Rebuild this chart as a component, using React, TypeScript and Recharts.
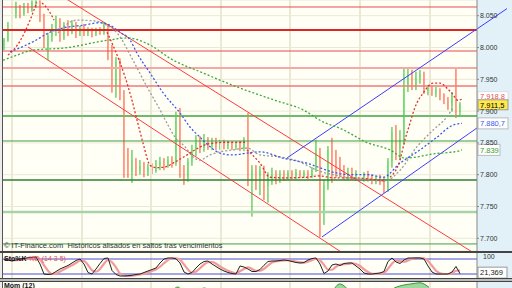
import React from 'react'
import { ComposedChart, Bar, Line, Area, XAxis, YAxis, CartesianGrid, ReferenceLine } from 'recharts'

// daily candles, index 0..114
const OPEN = [8002, 8012, 8031, 8053, 8060, 8053, 8064, 8059, 8070, 8072,
  8046, 7993, 8018, 8028, 8040, 8021, 8034, 8024, 8035, 8024,
  8031, 8023, 8029, 8021, 8028, 8023, 8034, 7996, 7941, 7977,
  7925, 7823, 7804, 7820, 7807, 7814, 7804, 7812, 7806, 7814,
  7820, 7814, 7823, 7817, 7894, 7804, 7795, 7820, 7839, 7851,
  7842, 7855, 7845, 7853, 7844, 7850, 7845, 7848, 7844, 7847,
  7842, 7855, 7792, 7807, 7798, 7807, 7782, 7795, 7800, 7792,
  7801, 7795, 7803, 7798, 7804, 7798, 7803, 7798, 7807, 7836,
  7745, 7784, 7839, 7823, 7811, 7804, 7800, 7804, 7798, 7803,
  7796, 7801, 7795, 7792, 7795, 7790, 7776, 7820, 7867, 7842,
  7855, 7941, 7957, 7939, 7952, 7958, 7933, 7936, 7930, 7933,
  7924, 7917, 7908, 7925, 7899]
const HIGH = [8015, 8040, 8062, 8072, 8067, 8070, 8070, 8074, 8074, 8074,
  8053, 8023, 8037, 8050, 8046, 8040, 8043, 8043, 8040, 8034,
  8037, 8032, 8031, 8031, 8032, 8040, 8037, 8004, 7985, 7983,
  7933, 7842, 7839, 7826, 7823, 7820, 7817, 7818, 7823, 7828,
  7826, 7829, 7829, 7899, 7905, 7815, 7826, 7847, 7862, 7861,
  7864, 7859, 7858, 7858, 7855, 7855, 7853, 7851, 7851, 7853,
  7859, 7897, 7815, 7815, 7814, 7814, 7804, 7811, 7807, 7807,
  7807, 7807, 7807, 7809, 7807, 7807, 7807, 7812, 7855, 7842,
  7792, 7845, 7858, 7839, 7828, 7815, 7811, 7811, 7807, 7807,
  7804, 7806, 7800, 7798, 7800, 7796, 7826, 7875, 7878, 7870,
  7968, 7968, 7965, 7962, 7965, 7962, 7941, 7940, 7938, 7936,
  7928, 7922, 7930, 7968, 7914]
const LOW = [7996, 8009, 8028, 8046, 8046, 8050, 8054, 8056, 8062, 8040,
  7999, 7980, 8009, 8018, 8009, 8012, 8018, 8021, 8015, 8018,
  8018, 8018, 8016, 8018, 8020, 8020, 7980, 7929, 7921, 7917,
  7795, 7795, 7787, 7798, 7800, 7796, 7798, 7801, 7803, 7807,
  7807, 7811, 7811, 7814, 7795, 7784, 7789, 7814, 7829, 7834,
  7836, 7839, 7839, 7839, 7839, 7840, 7840, 7839, 7839, 7837,
  7837, 7782, 7734, 7776, 7768, 7760, 7756, 7784, 7785, 7787,
  7790, 7792, 7793, 7793, 7795, 7795, 7793, 7795, 7804, 7702,
  7721, 7776, 7787, 7795, 7796, 7792, 7792, 7792, 7790, 7790,
  7789, 7789, 7785, 7785, 7784, 7771, 7773, 7811, 7823, 7823,
  7847, 7930, 7933, 7933, 7943, 7927, 7925, 7924, 7922, 7917,
  7911, 7902, 7899, 7889, 7892]
const CLOSE = [8012, 8031, 8053, 8062, 8053, 8065, 8059, 8070, 8073, 8046,
  8012, 8018, 8031, 8043, 8021, 8034, 8024, 8037, 8024, 8031,
  8023, 8029, 8021, 8028, 8023, 8034, 7996, 7941, 7977, 7925,
  7823, 7804, 7823, 7807, 7814, 7804, 7812, 7806, 7814, 7820,
  7814, 7823, 7817, 7889, 7807, 7798, 7820, 7839, 7851, 7842,
  7855, 7845, 7853, 7844, 7850, 7845, 7848, 7844, 7847, 7842,
  7855, 7792, 7807, 7795, 7807, 7779, 7795, 7800, 7792, 7801,
  7795, 7803, 7798, 7804, 7798, 7803, 7798, 7807, 7839, 7745,
  7784, 7839, 7823, 7811, 7804, 7800, 7804, 7798, 7803, 7796,
  7801, 7795, 7792, 7795, 7790, 7776, 7820, 7867, 7842, 7855,
  7936, 7957, 7939, 7952, 7958, 7933, 7936, 7930, 7933, 7924,
  7917, 7908, 7925, 7899, 7911.5]

// stochastic %K / %D
const STOCH_K = [79, 76, 72, 76, 80, 82, 85, 87, 88, 60,
  20, 18, 20, 30, 40, 47, 54, 64, 74, 80,
  60, 26, 20, 40, 62, 82, 84, 34, 18, 12,
  12, 13, 15, 18, 20, 26, 32, 38, 44, 64,
  80, 84, 84, 81, 64, 28, 20, 26, 44, 60,
  70, 72, 60, 50, 40, 32, 26, 22, 20, 52,
  48, 40, 30, 30, 38, 55, 70, 72, 72, 74,
  76, 74, 70, 66, 64, 66, 76, 82, 84, 60,
  22, 32, 56, 60, 54, 62, 64, 64, 52, 40,
  24, 20, 20, 22, 24, 30, 70, 84, 68, 62,
  76, 84, 84, 84, 84, 80, 52, 28, 20, 20,
  20, 20, 28, 50, 21.369]
const STOCH_D = [78, 77, 75, 75, 77, 80, 82, 84, 86, 78,
  55, 33, 20, 22, 30, 39, 47, 55, 64, 73,
  72, 56, 35, 29, 40, 61, 76, 67, 46, 22,
  14, 12, 13, 15, 18, 21, 26, 32, 38, 49,
  63, 76, 83, 83, 77, 58, 38, 25, 30, 43,
  58, 67, 68, 61, 50, 41, 33, 27, 23, 31,
  40, 47, 40, 33, 33, 41, 54, 66, 71, 73,
  74, 75, 73, 70, 67, 65, 69, 75, 81, 75,
  56, 38, 37, 49, 57, 59, 60, 63, 60, 52,
  39, 28, 21, 21, 22, 25, 41, 61, 74, 71,
  69, 74, 81, 84, 84, 83, 72, 53, 33, 23,
  20, 20, 23, 33, 34]
const STOCH_LEVELS = [80, 20]

// momentum (12), [index, value]
const MOM = [[0, 60], [8, 120], [12, -40], [20, 40], [28, -150], [32, -180], [40, 60], [43.5, 167],
  [46, 80], [50, 160], [52, 140], [58, 60], [61, -60], [66, -20], [75, 40], [80, -100], [82, 120],
  [84, 187], [86, 150], [90, 20], [95, -40], [97, 150], [100, 180], [102, 188], [104, 195],
  [106, 170], [110, 60], [114, 20]]

// dotted indicator curves, [index, price]
const RED_A = [[1, 7988], [4, 8010], [6.5, 8043], [8.2, 8071]]
const RED_B = [[9.5, 8070], [11, 8060], [12.5, 8043]]
const RED_C = [[25.75, 8024], [27.75, 7996], [30.25, 7954], [32, 7917], [33.25, 7886], [34.75, 7850],
  [36.5, 7815], [38, 7811], [40.25, 7812], [42.75, 7820], [45.25, 7829], [47.75, 7839], [50.25, 7847],
  [52.75, 7850], [56.5, 7851], [60.25, 7851]]
const RED_D = [[60.75, 7839], [64, 7818], [66.5, 7796], [70.25, 7795], [75.75, 7796], [78.5, 7798],
  [82.75, 7795], [87.75, 7795], [92.75, 7792], [95.25, 7790]]
const RED_E = [[96.5, 7796], [99, 7823], [100.25, 7855], [101.5, 7881], [102.75, 7906], [104.75, 7928],
  [107.25, 7944], [109, 7944], [110.75, 7936], [112, 7928], [113.5, 7917], [114.5, 7918.8]]
const GRAY = [[13.5, 8023], [14.75, 8031], [16.5, 8040], [18.25, 8043], [22.25, 8042], [25.75, 8035],
  [28.25, 8023], [32.25, 7980], [35.75, 7938], [39, 7902], [40.75, 7881], [42.75, 7859], [45.25, 7844],
  [47.25, 7828], [49, 7823], [51.5, 7831], [54, 7836], [57.25, 7839], [60.75, 7842], [64, 7831],
  [69, 7828], [74, 7820], [78.25, 7807], [82.25, 7800], [86.5, 7795], [90.75, 7792], [95.25, 7790],
  [99, 7807], [103.25, 7844], [107.25, 7870], [110.75, 7891], [112.25, 7905]]
const BLUE = [[1.5, 7993], [7.25, 8009], [11.5, 8024], [15.75, 8032], [19.75, 8035], [24, 8039],
  [26.5, 8035], [29, 8024], [31.5, 8012], [33.25, 7991], [36.5, 7960], [39.75, 7929], [44, 7897],
  [46.5, 7875], [49, 7859], [51.5, 7844], [54, 7834], [57.25, 7831], [60.75, 7834], [64, 7836],
  [69.75, 7826], [75.75, 7818], [82.25, 7804], [86.5, 7800], [91, 7800], [94.75, 7796], [99, 7818],
  [104, 7839], [108.25, 7859], [112.25, 7878], [114.5, 7880.7]]
const GREEN = [[-0.25, 7980], [3.25, 7988], [7.25, 7996], [14.75, 7999], [26.5, 8012], [30.75, 8015],
  [36.5, 8004], [41.5, 7983], [49.75, 7960], [58.25, 7938], [67.75, 7917], [74.75, 7902], [79.75, 7883],
  [84, 7873], [91, 7850], [96.5, 7839], [100.25, 7826], [107.75, 7833], [113.5, 7837], [114.5, 7839]]

// support / resistance and channels
const RED_LEVELS = [8063.7, 8027.5, 7994.5, 7967.8, 7939.5]
const GREEN_LEVELS = [7892.4, 7853.0, 7791.7, 7741.4, 7691.1]
const RED_CHANNEL_TOP = [[14, 8082.6], [118.25, 7673.8]]
const RED_CHANNEL_LOW = [[6, 8000.8], [85.25, 7674.5]]
const BLUE_CHANNEL_TOP = [[70.75, 7826.3], [125.75, 8061.2]]
const BLUE_CHANNEL_LOW = [[79.5, 7702.1], [118.25, 7873.5]]

const PRICE_TICKS = [7700, 7750, 7800, 7850, 7900, 7950, 8000, 8050]
const DATE_LINES = [2, 19.5, 36.75, 54.25, 71.5, 89, 106.5]
const X_DOMAIN = [-0.25, 118.25]

const FONT = '"Liberation Sans", Arial, sans-serif'
const GRID = '#ebe8d5'
const redLevelStyle = [
  { c: '#e84a4a', w: 1 },
  { c: '#e02424', w: 2 },
  { c: '#e84a4a', w: 1 },
  { c: '#f5a8a8', w: 2 },
  { c: '#f07a7a', w: 1.5 },
]
const greenLevelStyle = [
  { c: '#6dbb6d', w: 2 },
  { c: '#3f9f3f', w: 1 },
  { c: '#2f7f2f', w: 1.5 },
  { c: '#a6d4a6', w: 2.5 },
  { c: '#3f9f3f', w: 1 },
]

const candles = OPEN.map((o, i) => ({
  x: i, o, h: HIGH[i], l: LOW[i], c: CLOSE[i], range: [LOW[i], HIGH[i]],
}))
const stoch = STOCH_K.map((k, i) => ({ x: i, k, d: STOCH_D[i] }))
const mom = MOM.map(([x, y]) => ({ x, y }))
const pts = (a: number[][]) => a.map(([x, y]) => ({ x, y }))

function fmt(v: number, dec = 0) {
  const [int, frac] = v.toFixed(dec).split('.')
  const g = int.replace(/\B(?=(\d{3})+(?!\d))/g, '.')
  return frac ? `${g},${frac}` : g
}

function Candle(props: any) {
  const { x, y, width, height, payload } = props
  if (x == null || !payload) return null
  const top = Math.min(y, y + height)
  const span = Math.abs(height)
  const { o, h, l, c } = payload
  const k = h - l > 0 ? span / (h - l) : 0
  const yo = top + (h - o) * k
  const yc = top + (h - c) * k
  const up = c >= o
  const cx = x + width / 2
  return (
    <g>
      <line x1={cx} x2={cx} y1={top} y2={top + span} stroke={up ? '#22bb22' : '#ff4020'} strokeWidth={1} />
      <rect x={x} y={Math.min(yo, yc)} width={width} height={Math.max(1, Math.abs(yc - yo))}
        fill={up ? '#5fdc5f' : '#ff9c8c'} />
    </g>
  )
}

function Tag({ viewBox, text, color, bg, border, w, dy = 0, h = 11 }: any) {
  if (!viewBox) return null
  const x = viewBox.x + viewBox.width + 1
  const y = viewBox.y + dy
  return (
    <g>
      <rect x={x} y={y - h / 2} width={w} height={h} fill={bg} stroke={border} strokeWidth={1} />
      <text x={x + 2} y={y + 2.8} fontSize={7.5} fill={color} fontFamily={FONT}>{text}</text>
    </g>
  )
}

const dotted = (data: number[][], color: string, key: string) => (
  <Line key={key} data={pts(data)} dataKey="y" type="monotone" stroke={color} strokeWidth={1.3}
    strokeDasharray="2 2" dot={false} activeDot={false} isAnimationActive={false} />
)

export default function App() {
  const axisTick = { fontSize: 7, fill: '#333', fontFamily: FONT }
  const lastRed = RED_E[RED_E.length - 1][1]
  const lastBlue = BLUE[BLUE.length - 1][1]
  const lastGreen = GREEN[GREEN.length - 1][1]
  const lastClose = CLOSE[CLOSE.length - 1]
  const lastK = STOCH_K[STOCH_K.length - 1]
  return (
    <div style={{ position: 'fixed', left: 0, top: 0, width: 512, height: 288, overflow: 'hidden', background: '#bcbcbc', fontFamily: FONT }}>
      {/* price pane */}
      <div style={{ position: 'absolute', left: 0, top: 0, width: 512, height: 251, background: '#ececec' }}>
        <div style={{ position: 'absolute', left: 477, top: 0, width: 35, height: 251, background: '#e2f1f8' }} />
        <div style={{ position: 'absolute', left: 2, top: 0, width: 1, height: 251, background: '#555' }} />
        <div style={{ position: 'absolute', left: 0, top: 0 }}>
          <ComposedChart width={512} height={251} data={candles} margin={{ top: 0, right: 0, bottom: 0, left: 3 }}>
            <CartesianGrid fill="#fffff6" stroke={GRID} vertical={false} />
            <XAxis type="number" dataKey="x" domain={X_DOMAIN} hide allowDataOverflow />
            <YAxis orientation="right" width={35} domain={[7680, 8074.7]} ticks={PRICE_TICKS} interval={0}
              allowDataOverflow tickFormatter={(v: number) => fmt(v)} tick={axisTick} tickSize={2} tickMargin={1}
              axisLine={{ stroke: '#888' }} tickLine={{ stroke: '#888' }} />
            {DATE_LINES.map((x) => <ReferenceLine key={'d' + x} x={x} stroke={GRID} strokeWidth={2} />)}
            {RED_LEVELS.map((v, i) => (
              <ReferenceLine key={'r' + v} y={v} stroke={redLevelStyle[i].c} strokeWidth={redLevelStyle[i].w} />
            ))}
            {GREEN_LEVELS.map((v, i) => (
              <ReferenceLine key={'g' + v} y={v} stroke={greenLevelStyle[i].c} strokeWidth={greenLevelStyle[i].w} />
            ))}
            <ReferenceLine segment={pts(RED_CHANNEL_TOP)} stroke="#ff3a3a" ifOverflow="hidden" />
            <ReferenceLine segment={pts(RED_CHANNEL_LOW)} stroke="#ff3a3a" ifOverflow="hidden" />
            <ReferenceLine segment={pts(BLUE_CHANNEL_TOP)} stroke="#3c3cff" ifOverflow="visible" />
            <ReferenceLine segment={pts(BLUE_CHANNEL_LOW)} stroke="#3c3cff" ifOverflow="hidden" />
            <Bar dataKey="range" barSize={3} shape={(p: any) => <Candle {...p} />} isAnimationActive={false} />
            {dotted(GREEN, '#3aaa3a', 'green')}
            {dotted(GRAY, '#9a9a9a', 'gray')}
            {dotted(BLUE, '#3a5ae8', 'blue')}
            {dotted(RED_A, '#e0302a', 'ra')}
            {dotted(RED_B, '#e0302a', 'rb')}
            {dotted(RED_C, '#e0302a', 'rc')}
            {dotted(RED_D, '#e0302a', 'rd')}
            {dotted(RED_E, '#e0302a', 're')}
            <ReferenceLine y={lastRed} stroke="none"
              label={<Tag text={fmt(lastRed, 1)} color="#e85050" bg="#fff" border="#ddd" w={30} dy={-3} h={9} />} />
            <ReferenceLine y={lastClose} stroke="none"
              label={<Tag text={fmt(lastClose, 1)} color="#000" bg="#ffe94a" border="#999" w={30} dy={1} h={10} />} />
            <ReferenceLine y={lastBlue} stroke="none"
              label={<Tag text={fmt(lastBlue, 1)} color="#3a5ae8" bg="#fff" border="#bbb" w={30} />} />
            <ReferenceLine y={lastGreen} stroke="none"
              label={<Tag text={fmt(lastGreen)} color="#2fa02f" bg="#fff" border="#bbb" w={22} />} />
          </ComposedChart>
        </div>
        <div style={{ position: 'absolute', left: 4, top: 241, fontSize: 7.5, lineHeight: '9px', color: '#333', whiteSpace: 'pre' }}>
          {'© IT-Finance.com  Históricos alisados en saltos tras vencimientos'}
        </div>
      </div>
      <div style={{ position: 'absolute', left: 0, top: 251, width: 512, height: 2, background: '#444' }} />

      {/* stochastic pane */}
      <div style={{ position: 'absolute', left: 0, top: 253, width: 512, height: 25, background: '#ececec' }}>
        <div style={{ position: 'absolute', left: 477, top: 0, width: 35, height: 25, background: '#e2f1f8' }} />
        <div style={{ position: 'absolute', left: 2, top: 0, width: 1, height: 25, background: '#555' }} />
        <div style={{ position: 'absolute', left: 0, top: 0 }}>
          <ComposedChart width={512} height={25} data={stoch} margin={{ top: 0, right: 0, bottom: 0, left: 3 }}>
            <CartesianGrid fill="#fffff6" horizontal={false} vertical={false} />
            <XAxis type="number" dataKey="x" domain={X_DOMAIN} hide allowDataOverflow />
            <YAxis orientation="right" width={35} domain={[4, 104]} ticks={[]} allowDataOverflow
              tick={false} axisLine={{ stroke: '#888' }} tickLine={false} />
            {DATE_LINES.map((x) => <ReferenceLine key={'sd' + x} x={x} stroke={GRID} strokeWidth={2} />)}
            {STOCH_LEVELS.map((v) => <ReferenceLine key={'sl' + v} y={v} stroke="#4a4ae0" />)}
            <Line dataKey="d" type="monotone" stroke="#f39a9a" strokeWidth={2.2} dot={false} activeDot={false} isAnimationActive={false} />
            <Line dataKey="k" type="linear" stroke="#222" strokeWidth={1} dot={false} activeDot={false} isAnimationActive={false} />
            <ReferenceLine y={lastK} stroke="none"
              label={<Tag text={fmt(lastK, 3)} color="#222" bg="#fff" border="#999" w={29} dy={-1} />} />
          </ComposedChart>
        </div>
        <div style={{ position: 'absolute', left: 483, top: 0, fontSize: 7, lineHeight: '8px', color: '#333' }}>100</div>
        <div style={{ position: 'absolute', left: 4, top: 1, fontSize: 7, lineHeight: '9px', whiteSpace: 'pre' }}>
          <span style={{ color: '#111', fontWeight: 'bold' }}>Sto%K</span>
          <span style={{ color: '#e85050' }}>{' %D (14 3 5)'}</span>
        </div>
      </div>
      <div style={{ position: 'absolute', left: 0, top: 278, width: 512, height: 1, background: '#444' }} />

      {/* momentum pane */}
      <div style={{ position: 'absolute', left: 0, top: 281, width: 512, height: 1, background: '#444' }} />
      <div style={{ position: 'absolute', left: 0, top: 282, width: 512, height: 60, background: '#ececec' }}>
        <div style={{ position: 'absolute', left: 477, top: 0, width: 35, height: 60, background: '#e2f1f8' }} />
        <div style={{ position: 'absolute', left: 2, top: 0, width: 1, height: 60, background: '#555' }} />
        <div style={{ position: 'absolute', left: 0, top: 0 }}>
          <ComposedChart width={512} height={60} data={mom} margin={{ top: 0, right: 0, bottom: 0, left: 3 }}>
            <CartesianGrid fill="#fffff6" horizontal={false} vertical={false} />
            <XAxis type="number" dataKey="x" domain={X_DOMAIN} hide allowDataOverflow />
            <YAxis orientation="right" width={35} domain={[-200, 200]} tick={false} axisLine={{ stroke: '#888' }} tickLine={false} />
            {DATE_LINES.map((x) => <ReferenceLine key={'md' + x} x={x} stroke={GRID} strokeWidth={2} />)}
            <Area dataKey="y" type="monotone" baseValue={0} stroke="#3a9a3a" fill="#9fd89f" fillOpacity={1} isAnimationActive={false} />
          </ComposedChart>
        </div>
        <div style={{ position: 'absolute', left: 4, top: 0, fontSize: 7, lineHeight: '8px', color: '#111', fontWeight: 'bold' }}>
          Mom (12)
        </div>
      </div>
    </div>
  )
}
